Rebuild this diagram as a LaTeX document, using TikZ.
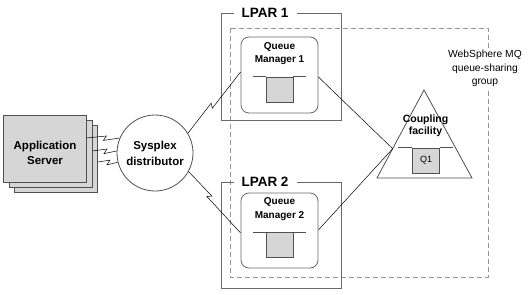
\documentclass[tikz,border=0pt]{standalone}
\usepackage{fontspec}
\setmainfont{Liberation Sans}
\usetikzlibrary{calc}
\definecolor{BoxGray}{RGB}{214,214,214}
\definecolor{EdgeGray}{RGB}{80,80,80}
\definecolor{FrameGray}{RGB}{105,105,105}
\definecolor{DashGray}{RGB}{150,150,150}

\begin{document}
\begin{tikzpicture}[x=1pt, y=-1pt,
    appbox/.style={rectangle, draw=EdgeGray, fill=BoxGray, line width=0.8pt, minimum width=83pt, minimum height=67pt, inner sep=0pt},
    biglabel/.style={align=center, inner sep=0pt, font=\bfseries\fontsize{11.5}{15}\selectfont},
    lpar/.style={rectangle, draw=FrameGray, line width=0.8pt, minimum width=120pt, inner sep=0pt},
    lpartitle/.style={fill=white, inner xsep=8pt, inner ysep=1pt, font=\bfseries\fontsize{13.5}{15}\selectfont},
    qmgr/.style={rectangle, rounded corners=8pt, draw=FrameGray, line width=0.8pt, minimum width=77pt, inner sep=0pt},
    qmtext/.style={align=center, inner sep=0pt, font=\bfseries\fontsize{10}{13.5}\selectfont},
    qbox/.style={rectangle, draw=EdgeGray, fill=BoxGray, line width=0.7pt, minimum width=27pt, minimum height=25pt, inner sep=0pt, font=\fontsize{9}{10}\selectfont},
    qline/.style={draw=EdgeGray, line width=0.7pt},
    link/.style={draw=black, line width=0.5pt},
    lightning/.style={link, to path={-- ($(\tikztostart)!#1!(\tikztotarget)!2pt!90:(\tikztotarget)$) -- ($(\tikztostart)!#1!(\tikztotarget)!2pt!-90:(\tikztotarget)!-3pt!(\tikztotarget)$) -- (\tikztotarget)}},
    lightning/.default=0.5,
    qsg/.style={draw=DashGray, line width=0.8pt, dash pattern=on 5pt off 3pt}
]
    \useasboundingbox (0,0) rectangle (529,294);

    % Queue-sharing group
    \draw[qsg] (230,28) rectangle (488,277);
    \node[fill=white, align=center, inner sep=1.5pt, font=\fontsize{10.3}{13.5}\selectfont] (qsgtext) at (485,68.5) {WebSphere MQ\\queue-sharing\\group};

    % Application servers
    \node[appbox] (app3) at (56,159) {};
    \node[appbox] (app2) at (50.5,154) {};
    \node[appbox] (app1) at (44.5,148.5) {};
    \node[biglabel] (apptext) at (45,153) {Application\\Server};

    % Sysplex distributor
    \node[circle, draw=EdgeGray, line width=0.8pt, minimum size=76pt, inner sep=0pt, align=center, font=\bfseries\fontsize{11.5}{16}\selectfont] (sysd) at (155,153) {Sysplex\\distributor};

    % LPARs
    \node[lpar, minimum height=107pt] (lpar1) at (281,66.5) {};
    \node[lpartitle] (lpar1t) at ($(lpar1.north)+(-16,0)$) {LPAR 1};
    \node[lpar, minimum height=106pt] (lpar2) at (281,235) {};
    \node[lpartitle] (lpar2t) at ($(lpar2.north)+(-16,0)$) {LPAR 2};

    % Queue managers
    \node[qmgr, minimum height=76pt] (qm1) at (279.5,75) {};
    \node[qmtext] (qm1t) at ($(qm1.north)+(0,17)$) {Queue\\Manager 1};
    \node[qbox] (qm1q) at ($(qm1)+(0,14.5)$) {};
    \draw[qline] ($(qm1q.north west)+(-13,0)$) -- (qm1q.north west);
    \draw[qline] (qm1q.north east) -- ++(13,0);

    \node[qmgr, minimum height=75pt] (qm2) at (279.5,230.5) {};
    \node[qmtext] (qm2t) at ($(qm2.north)+(0,16.7)$) {Queue\\Manager 2};
    \node[qbox] (qm2q) at ($(qm2)+(0,14.5)$) {};
    \draw[qline] ($(qm2q.north west)+(-13,0)$) -- (qm2q.north west);
    \draw[qline] (qm2q.north east) -- ++(13,0);

    % Coupling facility
    \coordinate (cftop) at (424,90);
    \coordinate (cfleft) at (377,178);
    \coordinate (cfright) at (472,178);
    \draw[draw=EdgeGray, line width=0.8pt] (cftop) -- (cfright) -- (cfleft) -- cycle;
    \coordinate (cfin) at ($(cftop)!0.667!(cfleft)$);
    \node[align=center, inner sep=0pt, font=\bfseries\fontsize{10.5}{12}\selectfont] (cftext) at (425.5,125.5) {Coupling\\facility};
    \node[qbox] (q1) at (426,160.5) {Q1};
    \draw[qline] ($(q1.north west)+(-14,0)$) -- (q1.north west);
    \draw[qline] (q1.north east) -- ++(13,0);

    % Connections
    \draw[lightning=0.6] ($(app1.east)+(0,-10.5)$) to (sysd.157);
    \draw[lightning=0.6] ($(app2.east)+(0,-3)$) to (sysd.177);
    \draw[lightning=0.6] ($(app3.east)+(0,3)$) to (sysd.194);
    \draw[lightning=0.47] (sysd.31) to ($(qm1.west)+(0,-3)$);
    \draw[lightning=0.42] (sysd.-29) to ($(qm2.west)+(0,2.5)$);
    \draw[link] ($(qm1.east)+(0,2)$) -- (cfin);
    \draw[link] ($(qm2.east)+(0,-0.5)$) -- (cfin);

\end{tikzpicture}
\end{document}
